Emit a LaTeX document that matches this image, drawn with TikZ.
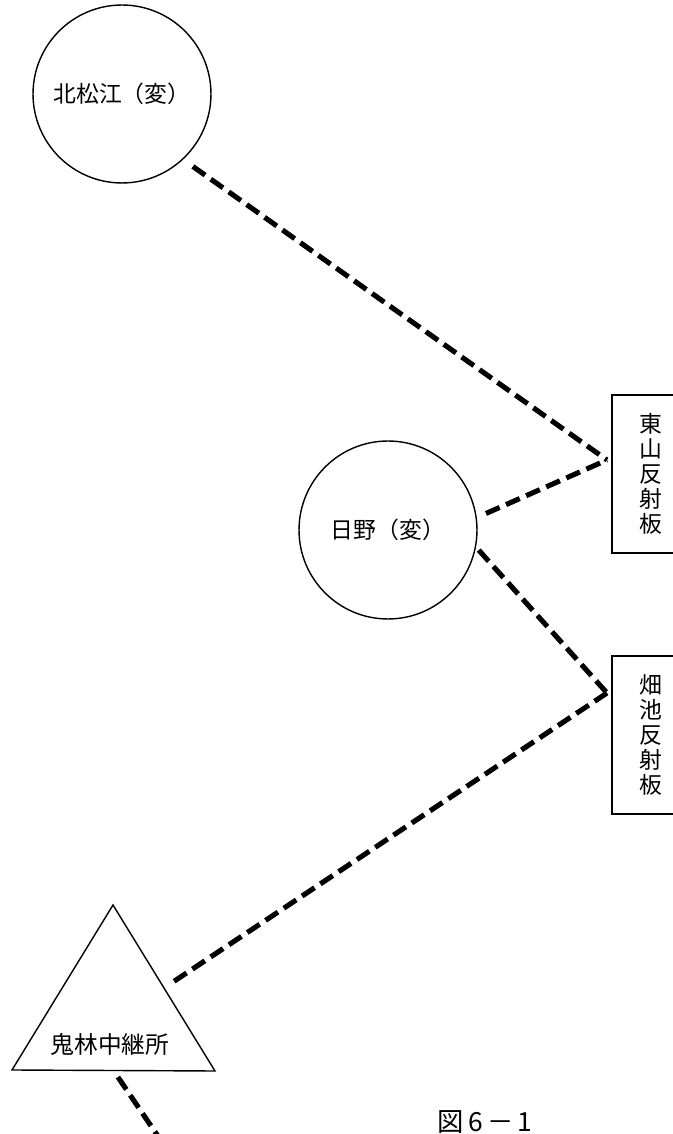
\documentclass[tikz,border=0pt]{standalone}
\usepackage{fontspec}
\newfontfamily\jp{Noto Sans CJK JP}
\usetikzlibrary{calc}

\begin{document}
\begin{tikzpicture}[x=0.02cm,y=0.02cm,
  stn/.style={circle,draw,line width=0.8pt,minimum size=3.56cm,inner sep=0pt,font=\jp\fontsize{13}{13}\selectfont},
  refl/.style={draw,line width=0.8pt,minimum width=1.56cm,minimum height=3.16cm,inner sep=0pt,align=center,font=\jp\fontsize{13}{14.2}\selectfont},
  link/.style={line width=2.9pt,dash pattern=on 8.5pt off 4pt}]
  \useasboundingbox (0,0) rectangle (673,1134);
  % stations
  \node[stn] (kita) at (122,1040) {北松江（変）};
  \node[stn] (hino) at (388,604) {日野（変）};
  % reflectors
  \node[refl] (higashi) at (651,660) {東\\山\\反\\射\\板};
  \node[refl] (hatake) at (651,399) {畑\\池\\反\\射\\板};
  \coordinate (hr) at (607,674);
  \coordinate (br) at (607,441);
  % relay
  \coordinate (onitop) at (113,229);
  \coordinate (onil) at (12,64);
  \coordinate (onir) at (215,63);
  \draw[line width=0.8pt] (onitop) -- (onil) -- (onir) -- cycle;
  \node[font=\jp\fontsize{13.5}{13.5}\selectfont] (oni) at (110,90) {鬼林中継所};
  \coordinate (onie) at ($(onitop)!0.5!(onir)$);
  \coordinate (onib) at ($(onil)!0.5!(onir)$);
  \coordinate (tail) at (170,-20);
  % links
  \draw[link,shorten <=6.8pt] (kita.-47) -- (hr);
  \draw[link,shorten <=5.7pt] (hino.8) -- (hr);
  \draw[link,shorten <=2.3pt] (hino.-11) -- (br);
  \draw[link,shorten >=5pt] (br) -- (onie);
  \draw[link,shorten <=4.5pt] (onib) -- (tail);
  \node[anchor=north,inner sep=0pt,font=\jp\fontsize{15}{15}\selectfont] (fig) at (485,24) {図\,6\,－\,1};
\end{tikzpicture}
\end{document}
